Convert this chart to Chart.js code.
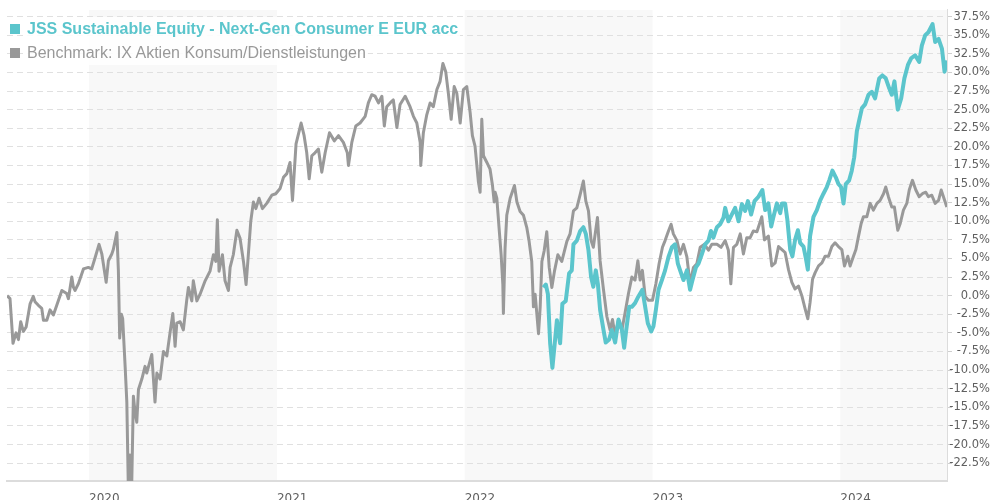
<!DOCTYPE html>
<html>
<head>
<meta charset="utf-8">
<script src="https://cdn.jsdelivr.net/npm/chart.js@4.4.1/dist/chart.umd.min.js"></script>
<style>
  body { margin: 0; background: #fff; }
  #wrap { position: relative; width: 990px; height: 500px; }
  #legend {
    position: absolute; left: 10px; top: 17px;
    font-family: "Liberation Sans", Arial, sans-serif; font-size: 16px; line-height: 24px;
  }
  #legend .row { display: flex; align-items: center; }
  #legend .row span.txt { background: rgba(255, 255, 255, 0.85); padding-right: 2px; }
  #legend .box { width: 10px; height: 10px; margin-right: 7px; }
</style>
</head>
<body>
<div id="wrap">
  <canvas id="perfChart" width="990" height="500"></canvas>
  <div id="legend"></div>
</div>
<script>
  // fractional years, percent change
  const seriesNames = [
    "JSS Sustainable Equity - Next-Gen Consumer E EUR acc",
    "Benchmark: IX Aktien Konsum/Dienstleistungen",
  ];
  const seriesColors = ["#5bc5cc", "#999999"];

  const xTicks = [2020, 2021, 2022, 2023, 2024];
  const shadedYears = [2020, 2022, 2024];
  const yTicks = [-22.5, -20, -17.5, -15, -12.5, -10, -7.5, -5, -2.5, 0, 2.5, 5, 7.5, 10,
    12.5, 15, 17.5, 20, 22.5, 25, 27.5, 30, 32.5, 35, 37.5];

  const benchX = [
    2019.563, 2019.579, 2019.595, 2019.611, 2019.624, 2019.636, 2019.650, 2019.665, 2019.686, 2019.703,
    2019.712, 2019.730, 2019.748, 2019.757, 2019.775, 2019.792, 2019.810, 2019.828, 2019.855, 2019.881,
    2019.890, 2019.908, 2019.916, 2019.925, 2019.943, 2019.970, 2019.996, 2020.014, 2020.032, 2020.053,
    2020.068, 2020.091, 2020.103, 2020.121, 2020.129, 2020.148, 2020.156, 2020.163, 2020.172, 2020.179,
    2020.192, 2020.201, 2020.209, 2020.218, 2020.227, 2020.236, 2020.245, 2020.254, 2020.263, 2020.281,
    2020.298, 2020.307, 2020.334, 2020.351, 2020.361, 2020.378, 2020.396, 2020.414, 2020.431, 2020.446,
    2020.458, 2020.467, 2020.485, 2020.502, 2020.520, 2020.529, 2020.547, 2020.555, 2020.574, 2020.591,
    2020.618, 2020.644, 2020.662, 2020.675, 2020.683, 2020.692, 2020.710, 2020.724, 2020.742, 2020.751,
    2020.768, 2020.787, 2020.804, 2020.822, 2020.836, 2020.848, 2020.861, 2020.875, 2020.888, 2020.905,
    2020.923, 2020.946, 2020.973, 2020.994, 2021.017, 2021.035, 2021.053, 2021.070, 2021.083, 2021.102,
    2021.129, 2021.145, 2021.159, 2021.172, 2021.186, 2021.203, 2021.221, 2021.239, 2021.257, 2021.280,
    2021.306, 2021.328, 2021.354, 2021.375, 2021.381, 2021.399, 2021.420, 2021.443, 2021.470, 2021.487,
    2021.505, 2021.523, 2021.541, 2021.559, 2021.572, 2021.585, 2021.603, 2021.620, 2021.639, 2021.656,
    2021.683, 2021.709, 2021.727, 2021.745, 2021.763, 2021.766, 2021.780, 2021.798, 2021.816, 2021.833,
    2021.852, 2021.869, 2021.884, 2021.899, 2021.913, 2021.928, 2021.944, 2021.958, 2021.976, 2021.993,
    2022.011, 2022.029, 2022.041, 2022.055, 2022.073, 2022.082, 2022.091, 2022.100, 2022.118, 2022.135,
    2022.148, 2022.157, 2022.162, 2022.171, 2022.183, 2022.194, 2022.203, 2022.206, 2022.215, 2022.224,
    2022.242, 2022.265, 2022.278, 2022.295, 2022.313, 2022.331, 2022.343, 2022.357, 2022.366, 2022.375,
    2022.384, 2022.393, 2022.402, 2022.411, 2022.423, 2022.437, 2022.450, 2022.464, 2022.478, 2022.496,
    2022.517, 2022.544, 2022.561, 2022.579, 2022.597, 2022.615, 2022.632, 2022.645, 2022.659, 2022.673,
    2022.685, 2022.707, 2022.721, 2022.739, 2022.757, 2022.774, 2022.787, 2022.801, 2022.819, 2022.837,
    2022.854, 2022.872, 2022.890, 2022.907, 2022.922, 2022.934, 2022.946, 2022.961, 2022.978, 2023.000,
    2023.018, 2023.035, 2023.053, 2023.067, 2023.085, 2023.099, 2023.111, 2023.130, 2023.147, 2023.165,
    2023.183, 2023.200, 2023.218, 2023.236, 2023.254, 2023.277, 2023.298, 2023.316, 2023.343, 2023.365,
    2023.387, 2023.404, 2023.417, 2023.431, 2023.449, 2023.467, 2023.484, 2023.502, 2023.520, 2023.537,
    2023.556, 2023.582, 2023.596, 2023.617, 2023.635, 2023.653, 2023.671, 2023.689, 2023.706, 2023.724,
    2023.742, 2023.759, 2023.777, 2023.795, 2023.813, 2023.827, 2023.839, 2023.852, 2023.866, 2023.884,
    2023.902, 2023.919, 2023.937, 2023.955, 2023.972, 2023.990, 2024.008, 2024.022, 2024.040, 2024.052,
    2024.070, 2024.083, 2024.097, 2024.111, 2024.123, 2024.141, 2024.159, 2024.176, 2024.195, 2024.212,
    2024.230, 2024.242, 2024.256, 2024.274, 2024.288, 2024.306, 2024.319, 2024.336, 2024.354, 2024.367,
    2024.384, 2024.402, 2024.420, 2024.437, 2024.455, 2024.469, 2024.487, 2024.505, 2024.523, 2024.537,
    2024.549, 2024.567,
  ];
  const benchY = [
    0, -0.4, -6.4, -5.0, -5.9, -3.5, -4.8, -4.2, -1.1, -0.1,
    -0.8, -1.3, -1.7, -3.3, -3.3, -1.9, -2.6, -1.3, 0.7, 0.3,
    -0.4, 2.5, 1.2, 0.7, 1.6, 3.6, 3.8, 3.6, 5.1, 6.9,
    5.6, 1.8, 4.7, 5.6, 6.2, 8.5, 3.4, -5.7, -2.5, -3.1,
    -9.5, -14.3, -25.8, -21.4, -25.5, -13.5, -15.7, -17.0, -12.6, -11.2,
    -9.5, -10.4, -7.9, -14.3, -10.4, -11.2, -7.5, -8.1, -5.0, -2.4,
    -6.8, -3.7, -3.5, -4.6, -0.6, 1.1, -0.7, 2.0, -0.7, 0.2,
    2.0, 3.3, 5.5, 4.6, 10.2, 3.3, 5.5, 2.0, 0.7, 3.8,
    5.5, 8.8, 7.7, 4.6, 1.5, 5.5, 10.0, 12.6, 11.7, 13.1,
    11.7, 12.4, 13.5, 13.7, 14.4, 15.9, 16.4, 17.9, 12.8, 20.4,
    23.2, 21.5, 19.2, 15.7, 18.8, 19.2, 19.7, 16.6, 19.2, 21.9,
    20.8, 21.5, 20.6, 19.2, 17.5, 20.6, 22.8, 23.2, 24.1, 25.9,
    27.0, 26.8, 25.9, 26.8, 22.8, 25.4, 25.9, 26.3, 22.6, 25.7,
    26.8, 25.4, 24.1, 23.2, 20.6, 17.5, 21.9, 24.3, 25.9, 25.4,
    27.7, 28.8, 31.2, 30.1, 27.2, 23.7, 28.1, 27.2, 23.2, 27.7,
    28.1, 24.6, 21.5, 20.1, 15.3, 13.9, 23.7, 18.8, 17.9, 17.0,
    14.8, 12.6, 13.9, 13.1, 9.1, 5.5, 1.5, -2.4, 6.4, 10.8,
    13.1, 14.8, 12.6, 11.3, 10.8, 9.1, 7.3, 4.6, -1.5, 0.2,
    -2.4, -5.1, -1.5, 4.6, 6.0, 8.6, 3.8, 1.1, 3.3, 5.5,
    4.6, 7.3, 8.3, 11.4, 11.8, 13.6, 15.4, 12.7, 11.4, 7.4,
    6.5, 10.5, 4.7, 0.8, -2.8, -4.6, -3.2, -5.4, -3.2, -4.6,
    -2.3, 0.3, 2.5, 2.1, 4.7, 2.1, 3.4, -0.1, -0.6, -0.6,
    1.6, 4.3, 6.5, 7.4, 8.7, 9.6, 8.3, 7.4, 5.6, 6.9,
    5.2, 1.6, 3.8, 4.3, 6.5, 6.9, 6.1, 6.9, 6.9, 6.5,
    7.4, 6.1, 1.6, 6.5, 6.9, 8.3, 5.6, 7.8, 7.8, 8.7,
    8.6, 10.6, 7.5, 8.0, 4.0, 4.4, 6.6, 6.2, 5.8, 3.5,
    1.8, 0.9, 1.3, 0, -1.8, -3.1, -0.9, 2.2, 3.1, 4.0,
    4.4, 5.3, 5.3, 6.6, 7.1, 6.6, 6.2, 4.0, 5.3, 4.0,
    5.3, 6.2, 8.0, 9.7, 10.6, 10.6, 12.4, 11.5, 12.4, 12.8,
    13.7, 14.6, 13.3, 11.9, 11.9, 8.8, 9.7, 11.5, 12.4, 14.2,
    15.5, 14.2, 13.3, 13.7, 13.9, 13.3, 13.5, 12.4, 12.8, 14.2,
    13.3, 11.9,
  ];

  const fundX = [
    2022.419, 2022.432, 2022.443, 2022.455, 2022.467, 2022.481, 2022.491, 2022.508, 2022.520, 2022.538,
    2022.556, 2022.570, 2022.579, 2022.597, 2022.615, 2022.632, 2022.645, 2022.659, 2022.673, 2022.685,
    2022.698, 2022.709, 2022.721, 2022.739, 2022.751, 2022.769, 2022.783, 2022.801, 2022.819, 2022.837,
    2022.849, 2022.860, 2022.876, 2022.890, 2022.907, 2022.925, 2022.946, 2022.961, 2022.975, 2022.993,
    2023.005, 2023.018, 2023.032, 2023.050, 2023.067, 2023.085, 2023.103, 2023.120, 2023.135, 2023.147,
    2023.165, 2023.183, 2023.200, 2023.213, 2023.231, 2023.245, 2023.263, 2023.280, 2023.298, 2023.311,
    2023.324, 2023.343, 2023.360, 2023.378, 2023.387, 2023.404, 2023.422, 2023.440, 2023.458, 2023.476,
    2023.493, 2023.508, 2023.525, 2023.543, 2023.564, 2023.585, 2023.600, 2023.617, 2023.632, 2023.644,
    2023.662, 2023.680, 2023.689, 2023.706, 2023.718, 2023.733, 2023.745, 2023.759, 2023.774, 2023.786,
    2023.804, 2023.816, 2023.827, 2023.839, 2023.857, 2023.875, 2023.893, 2023.910, 2023.928, 2023.941,
    2023.958, 2023.976, 2023.990, 2024.004, 2024.017, 2024.029, 2024.047, 2024.061, 2024.074, 2024.088,
    2024.100, 2024.115, 2024.132, 2024.150, 2024.168, 2024.185, 2024.207, 2024.224, 2024.242, 2024.260,
    2024.274, 2024.288, 2024.306, 2024.324, 2024.341, 2024.360, 2024.377, 2024.398, 2024.420, 2024.434,
    2024.452, 2024.469, 2024.491, 2024.505, 2024.523, 2024.541, 2024.555, 2024.567,
  ];
  const fundY = [
    1.1, 1.5, 0.2, -6.4, -9.7, -6.0, -3.3, -6.4, -1.1, -0.7,
    3.0, 3.4, 6.9, 7.4, 8.7, 9.2, 8.3, 6.1, 2.5, 1.2,
    3.4, 1.6, -1.9, -4.6, -6.3, -5.9, -4.6, -6.3, -3.2, -4.6,
    -7.0, -4.6, -1.5, -1.5, -1.0, -0.1, 0.8, -1.5, -3.7, -4.8,
    -4.1, -1.9, 0.8, 2.1, 3.4, 5.2, 6.5, 6.9, 4.3, 3.4,
    2.1, 3.4, 0.8, 2.1, 3.8, 4.3, 5.6, 6.9, 7.4, 8.7,
    7.8, 9.2, 9.6, 10.5, 11.8, 10.0, 10.9, 11.8, 10.0, 12.3,
    11.4, 12.7, 10.9, 12.7, 13.3, 14.2, 11.5, 12.4, 9.3, 10.6,
    12.4, 11.1, 12.4, 12.4, 10.2, 6.2, 5.3, 7.5, 8.8, 7.1,
    6.6, 5.1, 3.5, 8.0, 10.6, 11.5, 12.8, 13.7, 14.6, 15.5,
    16.8, 15.9, 15.0, 14.6, 12.4, 15.0, 15.5, 16.8, 18.6, 22.1,
    23.5, 25.2, 25.7, 27.0, 27.4, 26.5, 29.2, 29.6, 29.2, 27.9,
    27.0, 28.8, 25.0, 26.5, 29.2, 31.0, 31.9, 32.3, 31.4, 33.6,
    35.0, 35.4, 36.5, 34.1, 34.5, 33.2, 30.1, 31.6,
  ];

  const xMin = 2019.563;
  const xMax = 2024.568;
  const yMin = -24.9;
  const yMax = 38.4;

  const tickFont = { family: "'DejaVu Sans', Verdana, sans-serif", size: 11.5 };

  // build legend
  const legend = document.getElementById("legend");
  seriesNames.forEach((name, i) => {
    const row = document.createElement("div");
    row.className = "row";
    row.style.color = seriesColors[i];
    if (i === 0) row.style.fontWeight = "bold";
    row.innerHTML = '<span class="box" style="background:' + seriesColors[i] + '"></span>' +
      '<span class="txt">' + name + "</span>";
    legend.appendChild(row);
  });

  const yearBands = {
    id: "yearBands",
    beforeDraw(chart) {
      const { ctx, chartArea, scales } = chart;
      ctx.save();
      ctx.fillStyle = "#f8f8f8";
      shadedYears.forEach((yr) => {
        const x1 = Math.max(scales.x.getPixelForValue(yr), chartArea.left);
        const x2 = Math.min(scales.x.getPixelForValue(yr + 1), chartArea.right);
        ctx.fillRect(x1, chartArea.top, x2 - x1, chartArea.bottom - chartArea.top);
      });
      ctx.restore();
    },
  };

  const ctx = document.getElementById("perfChart").getContext("2d");
  const myChart = new Chart(ctx, {
    type: "line",
    data: {
      datasets: [
        {
          label: seriesNames[0],
          data: fundX.map((x, i) => ({ x: x, y: fundY[i] })),
          borderColor: seriesColors[0],
          borderWidth: 4,
        },
        {
          label: seriesNames[1],
          data: benchX.map((x, i) => ({ x: x, y: benchY[i] })),
          borderColor: seriesColors[1],
          borderWidth: 3,
        },
      ],
    },
    options: {
      responsive: false,
      animation: false,
      layout: { padding: { left: 7, top: 3 } },
      elements: { point: { radius: 0 }, line: { tension: 0, borderJoinStyle: "round" } },
      plugins: { legend: { display: false }, tooltip: { enabled: false } },
      scales: {
        x: {
          type: "linear",
          min: xMin,
          max: xMax,
          grid: { display: false },
          border: { color: "#dcdcdc", width: 2 },
          ticks: {
            align: "start",
            autoSkip: false,
            maxRotation: 0,
            padding: 3,
            color: "#606060",
            font: { family: tickFont.family, size: 12 },
            callback: (v) => String(v),
          },
          afterBuildTicks: (s) => { s.ticks = xTicks.map((v) => ({ value: v })); },
          afterFit: (s) => { s.height = 19; },
        },
        y: {
          position: "right",
          min: yMin,
          max: yMax,
          grid: { color: "#e0e0e0", tickColor: "#cfcfcf", tickLength: 5 },
          border: { color: "#dcdcdc", width: 1, dash: [6, 4] },
          ticks: {
            crossAlign: "far",
            color: "#606060",
            font: tickFont,
            callback: (v) => v.toFixed(1) + "%",
          },
          afterBuildTicks: (s) => { s.ticks = yTicks.map((v) => ({ value: v })); },
          afterFit: (s) => { s.width = 43; },
        },
      },
    },
    plugins: [yearBands],
  });
</script>
</body>
</html>
